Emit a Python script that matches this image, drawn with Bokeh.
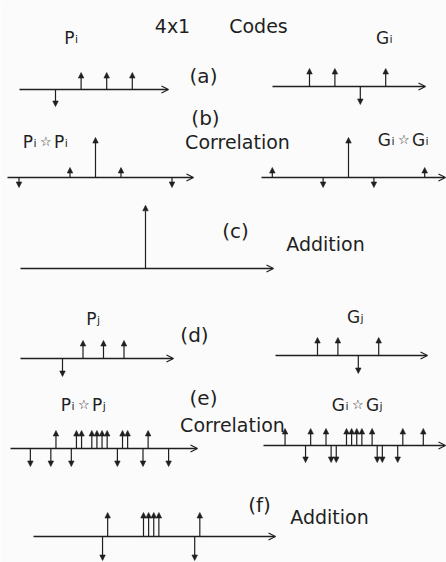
from bokeh.plotting import figure
from bokeh.models import Range1d, ColumnDataSource, Arrow, NormalHead, OpenHead
from bokeh.core.properties import value
from bokeh.embed import file_html
from bokeh.resources import INLINE

# ---- data -----------------------------------------------------------------
# 4x1 complementary code pairs: chip index and chip amplitude
chip_index = [0, 1, 2, 3]
P_i = [-1, 1, 1, 1]
G_i = [1, 1, -1, 1]
P_j = [-1, 1, 1, 1]
G_j = [1, 1, -1, 1]

# auto-correlations, lag in chips
auto_lags = [-3, -2, -1, 0, 1, 2, 3]
PiPi = [-1, 0, 1, 4, 1, 0, -1]
GiGi = [1, 0, -1, 4, -1, 0, 1]
auto_sum = [0, 0, 0, 8, 0, 0, 0]

# cross-correlations (code j chip = 4/5 of code i chip), lag in fifths of a chip
cross_lags = list(range(-12, 16))
PiPj = [-1, 0, 0, 0, -1, 1, 0, 0, -1, 1, 1, 0, 1, 1, 1, 1,
        0, -1, 1, 1, 0, 0, -1, 1, 0, 0, 0, -1]
GiGj = [1, 0, 0, 0, -1, 1, 0, 0, 1, -1, -1, 0, 1, 1, 1, 1,
        0, 1, -1, -1, 0, 0, -1, 1, 0, 0, 0, 1]
cross_sum = [0, 0, 0, 0, -2, 2, 0, 0, 0, 0, 0, 0, 2, 2, 2, 2,
             0, 0, 0, 0, 0, 0, -2, 2, 0, 0, 0, 0]

# ---- layout ---------------------------------------------------------------
W, H = 446, 562
INK = "#1f1f1f"
BG = "#fbfbfb"
FONT = "DejaVu Sans"

# origin (ox, oy), pixels per lag unit (sx), pixels per amplitude unit (sy),
# horizontal extent of the baseline arrow (x0, x1)
panels = {
    "a_l": dict(ox=55, oy=89, sx=25.6, sy=17, x0=19, x1=168),
    "a_r": dict(ox=309, oy=86, sx=25.4, sy=18, x0=272, x1=425),
    "b_l": dict(ox=95, oy=177, sx=25.5, sy=10, x0=7, x1=193),
    "b_r": dict(ox=348, oy=177, sx=25.4, sy=10, x0=261, x1=445),
    "c": dict(ox=145, oy=268, sx=25.5, sy=7.9, x0=20, x1=273),
    "d_l": dict(ox=62, oy=358, sx=20.5, sy=18, x0=20, x1=173),
    "d_r": dict(ox=317, oy=355, sx=20.4, sy=18, x0=275, x1=427),
    "e_l": dict(ox=91.3, oy=448, sx=5.12, sy=18, x0=10, x1=197),
    "e_r": dict(ox=346, oy=445, sx=5.12, sy=17, x0=263, x1=445),
    "f": dict(ox=143, oy=536, sx=5.12, sy=12, x0=33, x1=275),
}

p = figure(width=W, height=H, x_range=Range1d(0, W), y_range=Range1d(H, 0),
           output_backend="svg", toolbar_location=None, min_border=0,
           x_axis_location=None, y_axis_location=None)
p.xgrid.visible = False
p.ygrid.visible = False
p.outline_line_color = None
p.background_fill_color = BG
p.border_fill_color = BG

xr, yr = {}, {}
for name, s in panels.items():
    xr[name] = Range1d(-s["ox"] / s["sx"], (W - s["ox"]) / s["sx"])
    yr[name] = Range1d((s["oy"] - H) / s["sy"], s["oy"] / s["sy"])
p.extra_x_ranges = xr
p.extra_y_ranges = yr


def impulse_panel(name, lags, amps):
    s = panels[name]
    base = ColumnDataSource(dict(x0=[(s["x0"] - s["ox"]) / s["sx"]],
                                 x1=[(s["x1"] - s["ox"]) / s["sx"]], y=[0]))
    p.add_layout(Arrow(x_start="x0", y_start="y", x_end="x1", y_end="y",
                       source=base, x_range_name=name, y_range_name=name,
                       end=OpenHead(size=7, line_color=INK, line_width=1.2),
                       line_color=INK, line_width=1.3))
    pts = [(l, a) for l, a in zip(lags, amps) if a != 0]
    src = ColumnDataSource(dict(x=[l for l, _ in pts], y0=[0] * len(pts),
                                y1=[a for _, a in pts]))
    p.add_layout(Arrow(x_start="x", y_start="y0", x_end="x", y_end="y1",
                       source=src, x_range_name=name, y_range_name=name,
                       end=NormalHead(size=5.5, fill_color=INK, line_color=INK,
                                      line_width=0.6),
                       line_color=INK, line_width=1.2))


impulse_panel("a_l", chip_index, P_i)
impulse_panel("a_r", chip_index, G_i)
impulse_panel("b_l", auto_lags, PiPi)
impulse_panel("b_r", auto_lags, GiGi)
impulse_panel("c", auto_lags, auto_sum)
impulse_panel("d_l", chip_index, P_j)
impulse_panel("d_r", chip_index, G_j)
impulse_panel("e_l", cross_lags, PiPj)
impulse_panel("e_r", cross_lags, GiGj)
impulse_panel("f", cross_lags, cross_sum)

# ---- plain captions ---------------------------------------------------------
captions = [
    ("4x1", 172, 25, 19), ("Codes", 258, 25, 19),
    ("(a)", 203, 75, 20), ("(b)", 205, 117, 20), ("(c)", 235, 230, 20),
    ("(d)", 194, 334, 20), ("(e)", 203, 397, 20), ("(f)", 259, 504, 20),
    ("Correlation", 237, 141, 19), ("Addition", 325, 243, 19),
    ("Correlation", 232, 424, 19), ("Addition", 329, 516, 19),
]
cap = ColumnDataSource(dict(t=[c[0] for c in captions], x=[c[1] for c in captions],
                            y=[c[2] for c in captions],
                            fs=["%dpx" % c[3] for c in captions]))
p.text(x="x", y="y", text="t", source=cap, text_font=value(FONT),
       text_font_size="fs", text_align="center", text_baseline="alphabetic",
       text_color=INK)

# ---- code names with subscripts; the star is the correlation operator ------
EM = {"P": 0.603, "G": 0.775, "i": 0.278, "j": 0.278, "\u2606": 0.838}
SIZE = {"main": 17, "sub": 11, "op": 13}
DROP = {"main": 0, "sub": 2, "op": 0}
PAD = {"main": 0, "sub": 0.5, "op": 3}

names = [
    ([("P", "main"), ("i", "sub")], 71, 37),
    ([("G", "main"), ("i", "sub")], 384, 37),
    ([("P", "main"), ("i", "sub"), ("\u2606", "op"), ("P", "main"), ("i", "sub")], 45, 141),
    ([("G", "main"), ("i", "sub"), ("\u2606", "op"), ("G", "main"), ("i", "sub")], 403, 139),
    ([("P", "main"), ("j", "sub")], 93, 318),
    ([("G", "main"), ("j", "sub")], 355, 316),
    ([("P", "main"), ("i", "sub"), ("\u2606", "op"), ("P", "main"), ("j", "sub")], 83, 404),
    ([("G", "main"), ("i", "sub"), ("\u2606", "op"), ("G", "main"), ("j", "sub")], 357, 404),
]
letters = dict(x=[], y=[], t=[], fs=[])
stars = dict(x=[], y=[], t=[], fs=[])
for parts, cx, base in names:
    widths = [EM[g] * SIZE[k] + 2 * PAD[k] for g, k in parts]
    x = cx - sum(widths) / 2
    for (g, k), w in zip(parts, widths):
        d = stars if k == "op" else letters
        d["x"].append(x + PAD[k])
        d["y"].append(base + DROP[k])
        d["t"].append(g)
        d["fs"].append("%dpx" % SIZE[k])
        x += w
p.text(x="x", y="y", text="t", source=ColumnDataSource(letters),
       text_font=value(FONT), text_font_size="fs", text_align="left",
       text_baseline="alphabetic", text_color=INK)
p.text(x="x", y="y", text="t", source=ColumnDataSource(stars),
       text_font=value(FONT), text_font_size="fs", text_font_style="bold",
       text_align="left", text_baseline="alphabetic", text_color=INK)

open("out.html", "w").write(file_html(p, INLINE))
